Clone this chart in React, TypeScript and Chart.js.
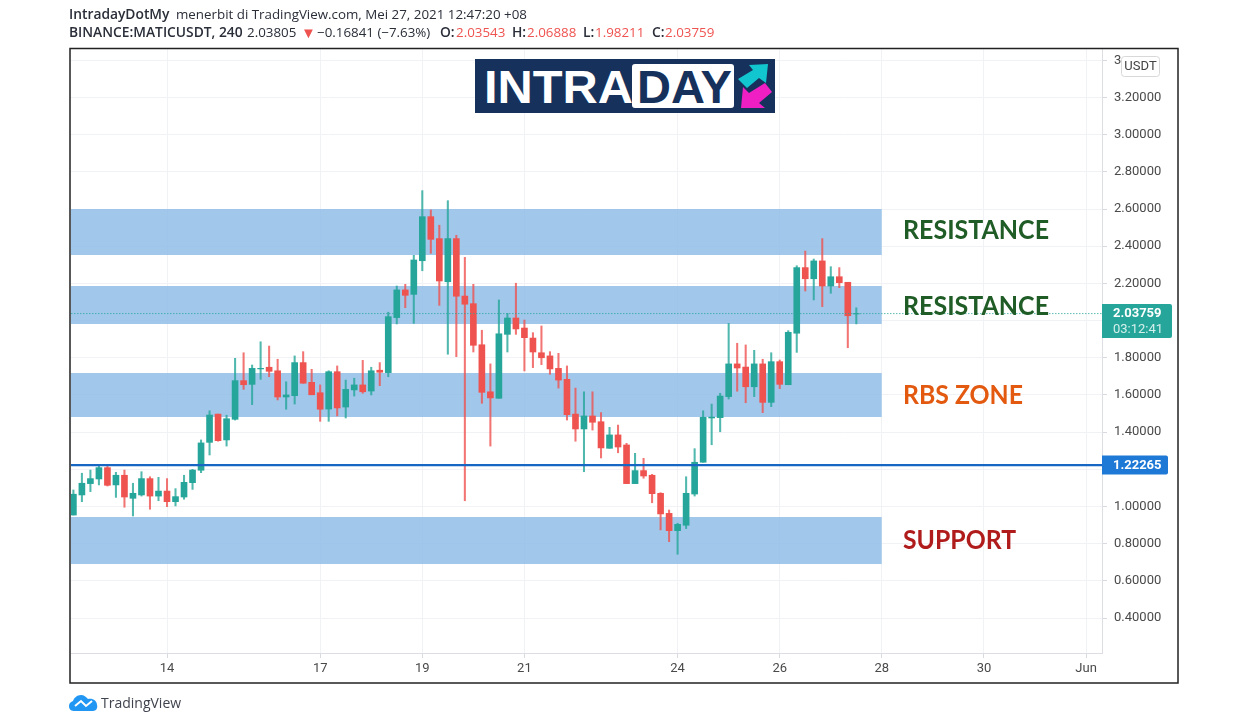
import React, { useRef, useEffect } from 'react';
import { Chart, registerables } from 'chart.js';

Chart.register(...registerables);

const opens = [
  0.954, 1.062, 1.123, 1.148, 1.209, 1.116, 1.168, 1.044, 1.062, 1.150,
  1.056, 1.083, 1.026, 1.051, 1.128, 1.195, 1.345, 1.497, 1.358, 1.469,
  1.677, 1.657, 1.740, 1.749, 1.730, 1.589, 1.596, 1.774, 1.668, 1.612,
  1.524, 1.725, 1.535, 1.627, 1.654, 1.621, 1.733, 1.720, 2.016, 2.165,
  2.141, 2.322, 2.559, 2.441, 2.209, 2.441, 2.132, 2.091, 1.870, 1.617,
  1.582, 1.926, 2.014, 1.960, 1.906, 1.827, 1.810, 1.743, 1.684, 1.497,
  1.417, 1.487, 1.456, 1.313, 1.385, 1.331, 1.123, 1.193, 1.168, 1.071,
  0.963, 0.870, 0.899, 1.067, 1.238, 1.476, 1.478, 1.591, 1.767, 1.750,
  1.644, 1.767, 1.560, 1.779, 1.655, 1.932, 2.285, 2.225, 2.321, 2.186,
  2.236, 2.206, 2.03543,
];
const highs = [
  1.089, 1.179, 1.196, 1.223, 1.218, 1.184, 1.196, 1.125, 1.187, 1.160,
  1.157, 1.150, 1.096, 1.168, 1.200, 1.358, 1.515, 1.497, 1.491, 1.797,
  1.827, 1.761, 1.886, 1.863, 1.792, 1.671, 1.810, 1.833, 1.738, 1.654,
  1.730, 1.756, 1.680, 1.690, 1.786, 1.749, 1.774, 2.045, 2.186, 2.195,
  2.351, 2.699, 2.595, 2.513, 2.645, 2.459, 2.340, 2.195, 1.948, 1.767,
  2.111, 2.039, 2.201, 2.003, 1.935, 1.971, 1.833, 1.824, 1.756, 1.637,
  1.617, 1.617, 1.505, 1.426, 1.438, 1.340, 1.286, 1.259, 1.173, 1.074,
  0.981, 0.910, 1.160, 1.311, 1.515, 1.551, 1.609, 1.985, 1.878, 1.869,
  1.840, 1.792, 1.827, 1.788, 1.946, 2.295, 2.374, 2.331, 2.441, 2.290,
  2.285, 2.206, 2.06888,
];
const lows = [
  0.954, 1.026, 1.080, 1.116, 1.110, 1.049, 0.996, 0.949, 1.056, 0.985,
  1.031, 0.999, 1.003, 1.039, 1.092, 1.182, 1.277, 1.351, 1.325, 1.465,
  1.630, 1.548, 1.684, 1.698, 1.573, 1.523, 1.551, 1.663, 1.601, 1.458,
  1.458, 1.487, 1.476, 1.594, 1.609, 1.600, 1.650, 1.698, 1.982, 2.069,
  1.985, 2.268, 2.362, 2.082, 1.819, 1.806, 1.031, 1.831, 1.555, 1.325,
  1.582, 1.831, 1.926, 1.729, 1.747, 1.763, 1.711, 1.637, 1.465, 1.351,
  1.187, 1.411, 1.261, 1.313, 1.289, 1.123, 1.123, 1.152, 1.020, 0.874,
  0.811, 0.743, 0.881, 1.056, 1.238, 1.332, 1.402, 1.578, 1.620, 1.558,
  1.591, 1.505, 1.537, 1.634, 1.655, 1.829, 2.159, 2.111, 2.075, 2.147,
  2.177, 1.854, 1.98211,
];
const closes = [
  1.066, 1.125, 1.150, 1.209, 1.114, 1.168, 1.051, 1.071, 1.150, 1.056,
  1.083, 1.026, 1.053, 1.130, 1.196, 1.342, 1.492, 1.354, 1.472, 1.677,
  1.655, 1.743, 1.743, 1.727, 1.589, 1.600, 1.774, 1.663, 1.601, 1.523,
  1.725, 1.530, 1.630, 1.654, 1.617, 1.730, 1.722, 2.021, 2.165, 2.136,
  2.326, 2.559, 2.437, 2.213, 2.441, 2.131, 2.088, 1.867, 1.614, 1.584,
  1.929, 2.014, 1.955, 1.908, 1.831, 1.800, 1.740, 1.680, 1.494, 1.417,
  1.487, 1.453, 1.315, 1.385, 1.320, 1.123, 1.193, 1.164, 1.069, 0.960,
  0.870, 0.904, 1.071, 1.238, 1.480, 1.481, 1.594, 1.767, 1.745, 1.644,
  1.767, 1.560, 1.779, 1.657, 1.937, 2.285, 2.225, 2.321, 2.186, 2.236,
  2.204, 2.026, 2.03759,
];

// candle index of each date label on the time axis
const dateTickIndex = [11, 29, 41, 53, 71, 83, 95, 107, 119];
const dateTickLabels = ['14', '17', '19', '21', '24', '26', '28', '30', 'Jun'];
const priceTicks = [0.4, 0.6, 0.8, 1.0, 1.2, 1.4, 1.6, 1.8, 2.0, 2.2, 2.4, 2.6, 2.8, 3.0, 3.2, 3.4];

const zoneTops = [2.6, 2.186, 1.718, 0.943];
const zoneBottoms = [2.353, 1.982, 1.481, 0.691];
const zoneEndIndex = 95;
const zoneLabels = ['RESISTANCE', 'RESISTANCE', 'RBS ZONE', 'SUPPORT'];
const zoneLabelPrices = [2.485, 2.075, 1.594, 0.814];
const zoneLabelColors = ['#1f5c26', '#1f5c26', '#e2590f', '#b01c1c'];
const zoneLabelWidths = [146, 146, 120, 113];

const lastPrice = 2.03759;
const linePrice = 1.22265;
const xMin = -0.281;
const xMax = 120.87;
const yMin = 0.2119;
const yMax = 3.4609;

const UP = '#26a69a';
const DOWN = '#ef5350';
const AXIS_FONT = 'Roboto, sans-serif';

const overlayPlugin = {
  id: 'overlay',
  afterDraw(chart: any) {
    const { ctx } = chart;
    const y = chart.scales.y;
    ctx.save();

    // outer frame
    ctx.strokeStyle = '#222';
    ctx.lineWidth = 1.5;
    ctx.strokeRect(70, 48.5, 1108, 634.5);

    // zone captions
    ctx.textBaseline = 'middle';
    ctx.textAlign = 'left';
    zoneLabels.forEach((label, i) => {
      ctx.font = '700 26px Lato, sans-serif';
      ctx.fillStyle = zoneLabelColors[i];
      ctx.fillText(label, 903, y.getPixelForValue(zoneLabelPrices[i]), zoneLabelWidths[i]);
    });

    // last price tag
    const lastY = y.getPixelForValue(lastPrice);
    ctx.fillStyle = UP;
    ctx.beginPath();
    ctx.roundRect(1102, lastY - 9.5, 70, 34, [0, 2, 2, 0]);
    ctx.fill();
    ctx.fillStyle = '#fff';
    ctx.font = `bold 13px ${AXIS_FONT}`;
    ctx.fillText('2.03759', 1113, lastY);
    ctx.fillStyle = '#d5efec';
    ctx.font = `13px ${AXIS_FONT}`;
    ctx.fillText('03:12:41', 1113, lastY + 16);

    // horizontal line tag
    const lineY = y.getPixelForValue(linePrice);
    ctx.fillStyle = '#1e78d6';
    ctx.beginPath();
    ctx.roundRect(1102, lineY - 9.5, 66, 19, [0, 2, 2, 0]);
    ctx.fill();
    ctx.fillStyle = '#fff';
    ctx.font = `bold 13px ${AXIS_FONT}`;
    ctx.fillText('1.22265', 1113, lineY + 0.5);

    // currency tag, hides part of the top tick label
    ctx.fillStyle = '#fff';
    ctx.fillRect(1121, 51, 42, 26);
    ctx.strokeStyle = '#d8d8d8';
    ctx.lineWidth = 1;
    ctx.beginPath();
    ctx.roundRect(1121.5, 56.5, 38, 20, 3);
    ctx.fill();
    ctx.stroke();
    ctx.fillStyle = '#444';
    ctx.font = `13px ${AXIS_FONT}`;
    ctx.textAlign = 'center';
    ctx.fillText('USDT', 1140.5, 67);
    ctx.restore();
  },
};

const TextRow: React.FC<{ top: number; left: number; color?: string; bold?: boolean; size?: number; children: React.ReactNode }> = ({
  top,
  left,
  color = '#2a2e39',
  bold,
  size,
  children,
}) => (
  <span
    style={{
      position: 'absolute',
      top,
      left,
      color,
      fontWeight: bold ? 600 : 400,
      fontSize: size ?? (bold ? 13.8 : 13.35),
      whiteSpace: 'nowrap',
      lineHeight: '18px',
    }}
  >
    {children}
  </span>
);

const App: React.FC = () => {
  const chartRef = useRef<HTMLCanvasElement>(null);

  useEffect(() => {
    if (!chartRef.current) return;
    const ctx = chartRef.current.getContext('2d');
    if (!ctx) return;

    const candleColors = closes.map((c, i) => (c >= opens[i] ? UP : DOWN));
    const wickColors = closes.map((c, i) => (c >= opens[i] ? 'rgba(38,166,154,0.8)' : 'rgba(239,83,80,0.8)'));

    const zoneSets = zoneTops.map((top, i) => ({
      type: 'line' as const,
      data: [
        { x: xMin, y: top },
        { x: zoneEndIndex, y: top },
      ],
      borderWidth: 0,
      pointRadius: 0,
      backgroundColor: 'rgba(145,190,232,0.85)',
      fill: { value: zoneBottoms[i] },
      order: 6,
    }));

    const chart = new Chart(ctx, {
      type: 'bar',
      data: {
        datasets: [
          ...zoneSets,
          {
            type: 'bar',
            data: lows.map((l, i) => ({ x: i, y: [l, highs[i]] })),
            backgroundColor: wickColors,
            barThickness: 1.4,
            grouped: false,
            order: 3,
          },
          {
            type: 'bar',
            data: opens.map((o, i) => ({ x: i, y: [o, closes[i]] })),
            backgroundColor: candleColors,
            barThickness: 6,
            grouped: false,
            order: 2,
          },
          {
            type: 'line',
            data: [
              { x: xMin, y: lastPrice },
              { x: xMax, y: lastPrice },
            ],
            borderColor: 'rgba(38,166,154,0.75)',
            borderWidth: 1,
            borderDash: [1.5, 1.5],
            pointRadius: 0,
            order: 1,
          },
          {
            type: 'line',
            data: [
              { x: xMin, y: linePrice },
              { x: xMax, y: linePrice },
            ],
            borderColor: '#1766c4',
            borderWidth: 2.4,
            pointRadius: 0,
            order: 0,
          },
        ] as any,
      },
      options: {
        responsive: false,
        animation: false,
        events: [],
        layout: { padding: { left: 71, top: 49, right: 72, bottom: 41 } },
        plugins: { legend: { display: false }, tooltip: { enabled: false } },
        scales: {
          x: {
            type: 'linear',
            offset: false,
            min: xMin,
            max: xMax,
            afterBuildTicks: (axis: any) => {
              axis.ticks = dateTickIndex.map((value) => ({ value }));
            },
            afterFit: (axis: any) => {
              axis.height = 30;
            },
            ticks: {
              autoSkip: false,
              maxRotation: 0,
              padding: 3,
              color: '#4a4a4a',
              font: { family: AXIS_FONT, size: 13 },
              callback: (value: any) => dateTickLabels[dateTickIndex.indexOf(value)],
            },
            grid: { offset: false, color: '#f0f2f6', tickLength: 5, tickColor: '#d8dae0' },
            border: { color: '#dcdee3' },
          },
          y: {
            position: 'right',
            min: yMin,
            max: yMax,
            afterBuildTicks: (axis: any) => {
              axis.ticks = priceTicks.map((value) => ({ value }));
            },
            afterFit: (axis: any) => {
              axis.width = 76;
            },
            ticks: {
              autoSkip: false,
              padding: 7,
              color: '#4a4a4a',
              font: { family: AXIS_FONT, size: 13 },
              callback: (value: any) => Number(value).toFixed(5),
            },
            grid: { color: '#f0f2f6', tickLength: 5, tickColor: '#d8dae0' },
            border: { color: '#dcdee3' },
          },
        },
      },
      plugins: [overlayPlugin],
    });

    return () => {
      chart.destroy();
    };
  }, []);

  return (
    <div
      style={{
        position: 'absolute',
        left: 0,
        top: 0,
        width: 1250,
        height: 724,
        background: '#fff',
        overflow: 'hidden',
        fontFamily: '"Open Sans", sans-serif',
      }}
    >
      <canvas ref={chartRef} width={1250} height={724} style={{ position: 'absolute', left: 0, top: 0 }} />

      <TextRow top={5} left={69} bold>IntradayDotMy</TextRow>
      <TextRow top={5} left={176}>menerbit di TradingView.com, Mei 27, 2021 12:47:20 +08</TextRow>

      <TextRow top={23} left={69} bold>BINANCE:MATICUSDT, 240</TextRow>
      <TextRow top={23} left={247}>2.03805</TextRow>
      <TextRow top={23} left={301} color={DOWN} size={15}>▼</TextRow>
      <TextRow top={23} left={317}>−0.16841 (−7.63%)</TextRow>
      <TextRow top={23} left={440} bold>O:</TextRow>
      <TextRow top={23} left={456} color={DOWN}>2.03543</TextRow>
      <TextRow top={23} left={512} bold>H:</TextRow>
      <TextRow top={23} left={527} color={DOWN}>2.06888</TextRow>
      <TextRow top={23} left={583} bold>L:</TextRow>
      <TextRow top={23} left={595} color={DOWN}>1.98211</TextRow>
      <TextRow top={23} left={652} bold>C:</TextRow>
      <TextRow top={23} left={665} color={DOWN}>2.03759</TextRow>

      <svg width={300} height={54} style={{ position: 'absolute', left: 475, top: 59 }}>
        <rect width={300} height={54} fill="#16325c" />
        <text x={9} y={44} fill="#fff" fontFamily="Liberation Sans" fontWeight="bold" fontSize={46} textLength={149} lengthAdjust="spacingAndGlyphs">
          INTRA
        </text>
        <rect x={157} y={5} width={102} height={44} rx={3} fill="#fff" />
        <text x={162} y={44} fill="#16325c" fontFamily="Liberation Sans" fontWeight="bold" fontSize={46} textLength={95} lengthAdjust="spacingAndGlyphs">
          DAY
        </text>
        <polygon points="274,6 293,5 291,24 284,19 272,29 263,20 278,11" fill="#12c6cf" />
        <polygon points="290,24 297,33 284,44 290,49 266,49 268,28 274,34" fill="#f01fc4" />
      </svg>

      <svg width={30} height={18} style={{ position: 'absolute', left: 69, top: 695 }}>
        <path
          d="M5 16 C1 16 0 13 0 11 C0 8 2 7 4 6 C5 3 8 0 12 0 C15 0 17 2 19 4 C24 3 28 6 28 10 C29 13 27 16 24 16 Z"
          fill="#2196f3"
        />
        <path d="M6 11 L12 6 L17 11 L23 6" fill="none" stroke="#fff" strokeWidth={2} />
      </svg>
      <span
        style={{
          position: 'absolute',
          left: 101,
          top: 694,
          fontSize: 14,
          lineHeight: '18px',
          color: '#3f434d',
        }}
      >
        TradingView
      </span>
    </div>
  );
};

export default App;
